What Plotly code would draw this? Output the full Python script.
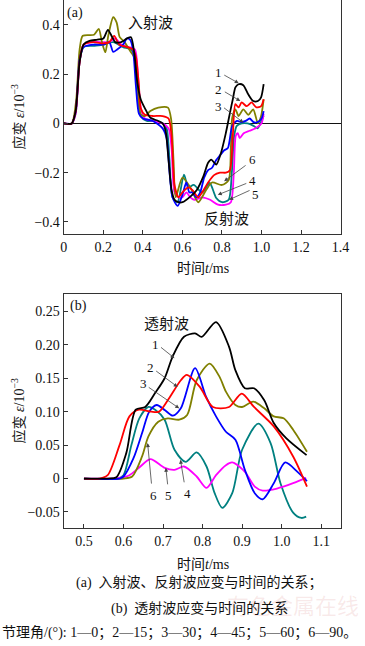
import plotly.graph_objects as go

# ---------------- data: (a) incident / reflected wave ----------------
a1_t = [0, 0.04, 0.06, 0.08, 0.1, 0.13, 0.17, 0.2, 0.223, 0.245, 0.26, 0.29, 0.32, 0.34, 0.356, 0.372, 0.389, 0.413, 0.438, 0.478, 0.5, 0.515, 0.53, 0.545, 0.56, 0.58, 0.6, 0.64, 0.673, 0.706, 0.73, 0.746, 0.771, 0.795, 0.82, 0.844, 0.855, 0.868, 0.884, 0.908, 0.933, 0.958, 0.982, 0.998, 1.011]
a1_v = [0, 0, 0.05, 0.25, 0.32, 0.335, 0.34, 0.345, 0.38, 0.35, 0.33, 0.33, 0.345, 0.35, 0.289, 0.166, 0.098, 0.057, 0.023, 0.01, 0.0, -0.03, -0.15, -0.27, -0.31, -0.32, -0.32, -0.297, -0.27, -0.215, -0.16, -0.147, -0.167, -0.12, -0.038, 0.057, 0.098, 0.146, 0.159, 0.155, 0.118, 0.091, 0.091, 0.106, 0.159]

a2_t = [0, 0.04, 0.06, 0.08, 0.1, 0.15, 0.2, 0.23, 0.255, 0.28, 0.32, 0.35, 0.365, 0.38, 0.39, 0.41, 0.45, 0.5, 0.53, 0.545, 0.56, 0.58, 0.6, 0.63, 0.65, 0.68, 0.7, 0.73, 0.76, 0.79, 0.82, 0.84, 0.855, 0.868, 0.884, 0.9, 0.925, 0.95, 0.974, 0.998, 1.011]
a2_v = [0, 0, 0.05, 0.25, 0.32, 0.33, 0.325, 0.33, 0.355, 0.32, 0.31, 0.3, 0.27, 0.15, 0.06, 0.035, 0.03, 0.03, 0.02, -0.05, -0.25, -0.3, -0.28, -0.26, -0.27, -0.3, -0.28, -0.24, -0.21, -0.2, -0.2, -0.19, -0.05, 0.078, 0.065, 0.085, 0.07, 0.085, 0.065, 0.07, 0.098]

a3_t = [0, 0.04, 0.06, 0.08, 0.1, 0.15, 0.2, 0.23, 0.25, 0.27, 0.3, 0.32, 0.335, 0.35, 0.365, 0.38, 0.4, 0.45, 0.5, 0.52, 0.535, 0.55, 0.576, 0.6, 0.62, 0.635, 0.65, 0.67, 0.69, 0.71, 0.73, 0.75, 0.77, 0.79, 0.81, 0.83, 0.852, 0.876, 0.9, 0.92, 0.94, 0.96, 0.98, 1.0, 1.011]
a3_v = [0, 0, 0.05, 0.26, 0.31, 0.32, 0.32, 0.33, 0.29, 0.3, 0.32, 0.345, 0.34, 0.3, 0.15, 0.04, 0.02, 0.01, -0.02, -0.06, -0.2, -0.3, -0.335, -0.29, -0.24, -0.28, -0.28, -0.3, -0.28, -0.22, -0.19, -0.18, -0.15, -0.13, -0.11, -0.1, -0.01, 0.01, 0.005, 0.01, 0.02, 0.005, 0.005, 0.02, 0.05]

a4_t = [0, 0.04, 0.06, 0.08, 0.1, 0.15, 0.2, 0.25, 0.3, 0.34, 0.36, 0.375, 0.39, 0.42, 0.46, 0.5, 0.52, 0.535, 0.55, 0.575, 0.608, 0.63, 0.657, 0.7, 0.738, 0.771, 0.8, 0.834, 0.85, 0.862, 0.875, 0.9, 0.93, 0.96, 0.98, 1.0, 1.011]
a4_v = [0, 0, 0.04, 0.25, 0.31, 0.315, 0.32, 0.33, 0.31, 0.3, 0.27, 0.12, 0.03, 0.01, 0.01, 0.0, -0.02, -0.15, -0.3, -0.32, -0.208, -0.26, -0.25, -0.28, -0.242, -0.303, -0.32, -0.31, -0.2, -0.05, -0.01, 0.0, 0.0, -0.01, -0.02, 0.01, 0.03]

a5_t = [0, 0.04, 0.06, 0.08, 0.1, 0.15, 0.2, 0.23, 0.26, 0.29, 0.33, 0.36, 0.375, 0.39, 0.41, 0.45, 0.5, 0.53, 0.545, 0.56, 0.58, 0.6, 0.62, 0.64, 0.66, 0.7, 0.74, 0.78, 0.82, 0.845, 0.86, 0.87, 0.88, 0.89, 0.91, 0.94, 0.97, 1.0, 1.011]
a5_v = [0, 0, 0.04, 0.25, 0.32, 0.33, 0.33, 0.33, 0.345, 0.32, 0.31, 0.3, 0.2, 0.06, 0.02, 0.01, 0.0, -0.02, -0.1, -0.28, -0.3, -0.3, -0.28, -0.3, -0.31, -0.3, -0.31, -0.33, -0.33, -0.32, -0.2, -0.05, -0.04, -0.06, -0.04, -0.03, -0.02, 0.0, 0.04]

a6_t = [0, 0.04, 0.063, 0.08, 0.096, 0.153, 0.177, 0.193, 0.21, 0.226, 0.25, 0.267, 0.283, 0.307, 0.34, 0.356, 0.372, 0.389, 0.41, 0.438, 0.478, 0.527, 0.543, 0.555, 0.566, 0.6, 0.64, 0.68, 0.72, 0.75, 0.8, 0.834, 0.845, 0.852, 0.868, 0.884, 0.908, 0.933, 0.958, 0.982, 0.998, 1.011]
a6_v = [0, 0, 0.098, 0.3, 0.356, 0.36, 0.384, 0.33, 0.289, 0.36, 0.431, 0.41, 0.35, 0.33, 0.289, 0.268, 0.152, 0.037, 0.03, 0.05, 0.064, 0.064, 0.016, -0.15, -0.3, -0.22, -0.26, -0.32, -0.27, -0.24, -0.25, -0.23, -0.1, 0.023, 0.057, 0.03, 0.057, 0.035, 0.057, 0.0, 0.03, 0.098]

# ---------------- data: (b) transmitted wave ----------------
b1_t = [0.5, 0.56, 0.582, 0.607, 0.631, 0.655, 0.679, 0.704, 0.724, 0.753, 0.781, 0.798, 0.834, 0.867, 0.883, 0.907, 0.93, 0.956, 0.98, 1.012, 1.063]
b1_v = [0, 0, 0.002, 0.038, 0.103, 0.107, 0.127, 0.15, 0.182, 0.212, 0.217, 0.212, 0.234, 0.197, 0.162, 0.135, 0.135, 0.117, 0.083, 0.06, 0.035]

b2_t = [0.5, 0.54, 0.56, 0.59, 0.615, 0.639, 0.67, 0.69, 0.712, 0.745, 0.76, 0.793, 0.826, 0.867, 0.899, 0.93, 0.98, 1.029, 1.064]
b2_v = [0, 0, 0.005, 0.05, 0.093, 0.103, 0.1, 0.1, 0.117, 0.147, 0.155, 0.137, 0.107, 0.107, 0.127, 0.107, 0.078, 0.033, -0.012]

b3_t = [0.5, 0.59, 0.6, 0.625, 0.647, 0.665, 0.684, 0.705, 0.725, 0.745, 0.781, 0.809, 0.834, 0.859, 0.883, 0.907, 0.932, 0.952, 0.98, 1.009, 1.04, 1.064]
b3_v = [0, 0, 0.003, 0.03, 0.068, 0.1, 0.11, 0.102, 0.094, 0.105, 0.165, 0.122, 0.093, 0.07, 0.058, 0.013, -0.022, -0.031, -0.007, 0.024, 0.01, -0.004]

b4_t = [0.5, 0.585, 0.6, 0.62, 0.64, 0.663, 0.68, 0.704, 0.729, 0.757, 0.785, 0.81, 0.83, 0.85, 0.875, 0.9, 0.941, 0.972, 0.997, 1.029, 1.05, 1.062]
b4_v = [0, 0, 0.005, 0.05, 0.09, 0.107, 0.103, 0.088, 0.043, 0.025, 0.039, 0.018, -0.021, -0.044, -0.022, 0.043, 0.082, 0.053, -0.007, -0.051, -0.059, -0.057]

b5_t = [0.5, 0.58, 0.6, 0.615, 0.639, 0.668, 0.704, 0.729, 0.753, 0.785, 0.81, 0.834, 0.859, 0.875, 0.907, 0.932, 0.952, 0.988, 1.029, 1.062]
b5_v = [0, 0, 0.002, 0.005, 0.016, 0.029, 0.016, 0.013, 0.018, 0.003, -0.014, 0.005, 0.02, 0.024, 0.01, -0.012, -0.018, -0.015, -0.007, 0.001]

b6_t = [0.5, 0.6, 0.622, 0.647, 0.663, 0.688, 0.712, 0.741, 0.761, 0.785, 0.818, 0.843, 0.859, 0.883, 0.9, 0.928, 0.956, 0.98, 1.005, 1.029, 1.064]
b6_v = [0, 0, 0.003, 0.033, 0.063, 0.085, 0.09, 0.088, 0.095, 0.147, 0.172, 0.152, 0.13, 0.11, 0.107, 0.115, 0.105, 0.093, 0.09, 0.073, 0.04]

colors = {1: "#000000", 2: "#FF0000", 3: "#0000FF", 4: "#008080", 5: "#FF00FF", 6: "#808000"}

a_series = {1: (a1_t, a1_v), 2: (a2_t, a2_v), 3: (a3_t, a3_v), 4: (a4_t, a4_v), 5: (a5_t, a5_v), 6: (a6_t, a6_v)}
b_series = {1: (b1_t, b1_v), 2: (b2_t, b2_v), 3: (b3_t, b3_v), 4: (b4_t, b4_v), 5: (b5_t, b5_v), 6: (b6_t, b6_v)}

a_xticks = [0, 0.2, 0.4, 0.6, 0.8, 1.0, 1.2, 1.4]
a_xtext = ["0", "0.2", "0.4", "0.6", "0.8", "1.0", "1.2", "1.4"]
a_yticks = [-0.4, -0.2, 0, 0.2, 0.4]
a_ytext = ["\u22120.4", "\u22120.2", "0", "0.2", "0.4"]
b_xticks = [0.5, 0.6, 0.7, 0.8, 0.9, 1.0, 1.1]
b_xtext = ["0.5", "0.6", "0.7", "0.8", "0.9", "1.0", "1.1"]
b_yticks = [-0.05, 0, 0.05, 0.10, 0.15, 0.20, 0.25]
b_ytext = ["\u22120.05", "0", "0.05", "0.10", "0.15", "0.20", "0.25"]

W, H = 365, 646
SERIF = "Liberation Serif, Noto Sans CJK SC"
CJK = "Noto Sans CJK SC"

fig = go.Figure()
order = [4, 5, 6, 3, 2, 1]
for k in order:
    t, v = a_series[k]
    fig.add_trace(go.Scatter(x=t, y=v, mode="lines", line=dict(color=colors[k], width=1.8, shape="spline", smoothing=0.7),
                             xaxis="x", yaxis="y", showlegend=False, hoverinfo="skip"))
for k in order:
    t, v = b_series[k]
    fig.add_trace(go.Scatter(x=t, y=v, mode="lines", line=dict(color=colors[k], width=1.8, shape="spline", smoothing=0.8),
                             xaxis="x2", yaxis="y2", showlegend=False, hoverinfo="skip"))

xd = [62 / W, 349 / W]
axis_common = dict(showgrid=False, showline=True, linecolor="#333333", linewidth=1.3,
                   ticks="inside", ticklen=4, tickcolor="#333333",
                   tickfont=dict(family=SERIF, size=14, color="#111111"))

fig.update_layout(
    width=W, height=H, margin=dict(l=0, r=0, t=0, b=0),
    paper_bgcolor="white", plot_bgcolor="white",
    xaxis=dict(domain=xd, range=[0, 1.4], tickvals=a_xticks, ticktext=a_xtext, anchor="y", mirror=False, zeroline=False, **axis_common),
    yaxis=dict(domain=[1 - 234 / H, 1], range=[-0.449, 0.501], tickvals=a_yticks, ticktext=a_ytext, anchor="x", mirror=True,
               zeroline=True, zerolinecolor="#111111", zerolinewidth=1, **axis_common),
    xaxis2=dict(domain=xd, range=[0.449, 1.149], tickvals=b_xticks, ticktext=b_xtext, anchor="y2", mirror=True, zeroline=False, **axis_common),
    yaxis2=dict(domain=[1 - 528 / H, 1 - 294 / H], range=[-0.074, 0.276], tickvals=b_yticks, ticktext=b_ytext, anchor="x2", mirror=True,
                zeroline=False, **axis_common),
)

ann = []
def ptext(x, y, text, size=14, family=SERIF, angle=0, color="#111111", xanchor="center"):
    ann.append(dict(xref="paper", yref="paper", x=x / W, y=1 - y / H, text=text, showarrow=False,
                    font=dict(family=family, size=size, color=color), textangle=angle,
                    xanchor=xanchor, yanchor="middle"))

# watermark
ptext(300, 604, "有色金属在线", 22, family=CJK, color="rgba(215,120,120,0.16)")

# axis titles
ptext(206, 268, "时间<i>t</i>/ms", 14)
ptext(206, 564, "时间<i>t</i>/ms", 14)
ptext(15, 117, "应变 <i>ε</i>/10<sup>−3</sup>", 14, angle=-90)
ptext(15, 411, "应变 <i>ε</i>/10<sup>−3</sup>", 14, angle=-90)

# panel labels
ptext(74, 13, "(a)", 14)
ptext(152, 22, "入射波", 15, family=CJK)
ptext(231, 217, "反射波", 15, family=CJK)
ptext(77, 306, "(b)", 14)
ptext(168, 322, "透射波", 15, family=CJK)

# curve number labels
for (x, y, s) in [(222, 73, "1"), (222, 89, "2"), (222, 106, "3"), (258, 160, "6"), (258, 180, "4"), (261, 195, "5"),
                  (157, 345, "1"), (152, 367, "2"), (145, 383, "3"), (155, 495, "6"), (171, 495, "5"), (190, 493, "4")]:
    ptext(x, y, s, 13)

# arrows (tip in data coords, tail offset in pixels)
def arrow(xref, yref, t, v, ax, ay):
    ann.append(dict(xref=xref, yref=yref, x=t, y=v, ax=ax, ay=ay, text="", showarrow=True,
                    arrowhead=2, arrowsize=1.0, arrowwidth=0.8, arrowcolor="#444444"))

arrow("x", "y", 0.885, 0.163, -16, -9)
arrow("x", "y", 0.893, 0.091, -17, -10)
arrow("x", "y", 0.909, 0.003, -21, -16)
arrow("x", "y", 0.811, -0.235, 23, -17)
arrow("x", "y", 0.779, -0.29, 30, -12)
arrow("x", "y", 0.836, -0.31, 22, -10)
arrow("x2", "y2", 0.729, 0.18, -15, -12)
arrow("x2", "y2", 0.737, 0.137, -23, -17)
arrow("x2", "y2", 0.741, 0.105, -32, -22)
arrow("x2", "y2", 0.661, 0.053, 4, 42)
arrow("x2", "y2", 0.707, 0.016, 2, 18)
arrow("x2", "y2", 0.744, 0.028, 4, 24)

# captions
ptext(203, 582, "(a)  入射波、反射波应变与时间的关系；", 14)
ptext(203, 608, "(b)  透射波应变与时间的关系", 14)
ptext(182, 633, "节理角/(°): 1—0；2—15；3—30；4—45；5—60；6—90。", 14)

fig.update_layout(annotations=ann)
fig.write_html("out.html", config={"displayModeBar": False},
               post_script="document.body.style.margin='0';document.body.style.overflow='hidden';")
